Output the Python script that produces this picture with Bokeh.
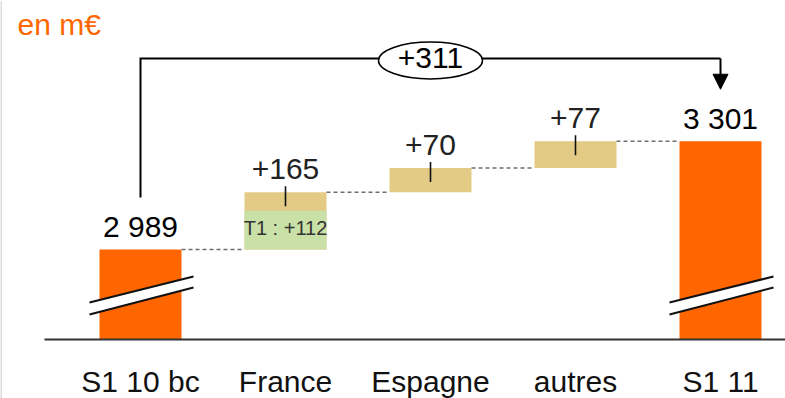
from bokeh.plotting import figure
from bokeh.models import Range1d, Arrow, NormalHead, Span
from bokeh.core.properties import value
from bokeh.embed import file_html
from bokeh.resources import INLINE

# --- data -------------------------------------------------------------
categories = ["S1 10 bc", "France", "Espagne", "autres", "S1 11"]
start_total = 2989
end_total = 3301
step_deltas = [165, 70, 77]          # France, Espagne, autres
step_labels = ["+165", "+70", "+77"]
total_labels = ["2 989", "3 301"]
france_t1 = 112
france_t1_label = "T1 : +112"
overall_label = "+311"
unit_label = "en m€"

# --- colours / fonts ---------------------------------------------------
ORANGE = "#FF6600"
TAN = "#E3CB85"
GREEN = "#C9E0A6"
FONT = value("Liberation Sans")
BIG = 30                      # main font size, px
CAT = 30                      # category label size, px
SMALL = 20


def lift(size):
    """Offset from the glyph anchor to the text baseline in the svg output."""
    return -0.37 * size


# --- scales: broken value axis starting at Y_BASE ----------------------
W, H = 785, 398
Y_BASE = 2730                 # cut axis origin
PX = 2.88                     # value units per screen pixel
CAT_PX = 145                  # pixels per category
AXIS_ROW = 59                 # pixels below the baseline for labels
x_start = -140 / CAT_PX
x_end = x_start + W / CAT_PX
y_start = Y_BASE - AXIS_ROW * PX
y_end = Y_BASE + (H - AXIS_ROW) * PX
BAR_W = 82 / CAT_PX

p = figure(width=W, height=H, output_backend="svg", toolbar_location=None,
           x_range=Range1d(x_start, x_end), y_range=Range1d(y_start, y_end),
           x_axis_location=None, y_axis_location=None, min_border=0)
p.grid.visible = False
p.outline_line_color = None
p.background_fill_color = "white"
p.border_fill_color = "white"

# cumulative levels of the waterfall
levels = [start_total]
for d in step_deltas:
    levels.append(levels[-1] + d)
n = len(categories)
step_x = list(range(1, n - 1))

# left page edge
p.add_layout(Span(location=x_start, dimension="height",
                  line_color="#dcdcdc", line_width=3))

# total bars
p.vbar(x=[0, n - 1], bottom=Y_BASE, top=[start_total, end_total],
       width=BAR_W, fill_color=ORANGE, line_color=None)

# step bars
p.vbar(x=step_x, bottom=levels[:-1], top=levels[1:], width=BAR_W,
       fill_color=TAN, line_color=None)

# France first-quarter share
p.vbar(x=[1], bottom=[start_total], top=[start_total + france_t1],
       width=BAR_W, fill_color=GREEN, line_color=None)

# dashed connectors between bars
p.segment(x0=[i + BAR_W / 2 for i in range(n - 1)],
          x1=[i + 1 - BAR_W / 2 for i in range(n - 1)],
          y0=levels, y1=levels, line_color="#6e6e6e", line_width=1.4,
          line_dash="4 3")

# small ticks on the step bars
p.segment(x0=step_x, x1=step_x,
          y0=[v + 6 * PX for v in levels[1:]],
          y1=[v - 14 * PX for v in levels[1:]],
          line_color="#111111", line_width=1.6)

# axis break marks on the total bars
for cx in [0, n - 1]:
    xl = cx - BAR_W / 2 - 10 / CAT_PX
    xr = cx + BAR_W / 2 + 12 / CAT_PX
    up_l, up_r = Y_BASE + 37 * PX, Y_BASE + 63 * PX
    lo_l, lo_r = Y_BASE + 25 * PX, Y_BASE + 52 * PX
    p.patch(x=[xl, xr, xr, xl], y=[up_l, up_r, lo_r, lo_l],
            fill_color="white", line_color=None)
    p.multi_line(xs=[[xl, xr], [xl, xr]], ys=[[up_l, up_r], [lo_l, lo_r]],
                 line_color="#111111", line_width=2)

# baseline
p.segment(x0=[x_start + 44 / CAT_PX], x1=[x_end], y0=[Y_BASE], y1=[Y_BASE],
          line_color="#333333", line_width=2)

# value labels
p.text(x=[0, n - 1], y=[start_total, end_total], text=total_labels,
       text_align="center", text_baseline="alphabetic",
       y_offset=-12 + lift(BIG),
       text_font=FONT, text_font_size=f"{BIG}px", text_color="#000000")
p.text(x=step_x, y=levels[1:], text=step_labels,
       text_align="center", text_baseline="alphabetic",
       y_offset=-12 + lift(BIG),
       text_font=FONT, text_font_size=f"{BIG}px", text_color="#222222")
p.text(x=[1], y=[start_total], text=[france_t1_label],
       text_align="center", text_baseline="alphabetic",
       y_offset=-14 + lift(SMALL),
       text_font=FONT, text_font_size=f"{SMALL}px", text_color="#333333")

# category labels
p.text(x=list(range(n)), y=[Y_BASE] * n, text=categories,
       text_align="center", text_baseline="alphabetic",
       y_offset=53 + lift(CAT),
       text_font=FONT, text_font_size=f"{CAT}px", text_color="#111111")

# overall change bracket
top_level = Y_BASE + (H - AXIS_ROW - 58) * PX
p.line(x=[0, 0, n - 1], y=[start_total + 52 * PX, top_level, top_level],
       line_color="#000000", line_width=2, line_join="miter")
p.add_layout(Arrow(end=NormalHead(size=15, fill_color="black",
                                  line_color="black", line_width=1),
                   x_start=n - 1, y_start=top_level,
                   x_end=n - 1, y_end=end_total + 52 * PX,
                   line_color="black", line_width=2))
p.ellipse(x=[2], y=[top_level - 2 * PX], width=104, height=37,
          width_units="screen", height_units="screen",
          fill_color="white", line_color="black", line_width=1.5)
p.text(x=[2], y=[top_level], text=[overall_label], text_align="center",
       text_baseline="alphabetic", y_offset=11 + lift(BIG), text_font=FONT,
       text_font_size=f"{BIG}px", text_color="#000000")

# unit caption
p.text(x=[x_start + 17 / CAT_PX], y=[y_end - 35 * PX], text=[unit_label],
       text_align="left", text_baseline="alphabetic",
       y_offset=lift(BIG), text_font=FONT,
       text_font_size=f"{BIG}px", text_color=ORANGE)

open("out.html", "w").write(file_html(p, INLINE))
